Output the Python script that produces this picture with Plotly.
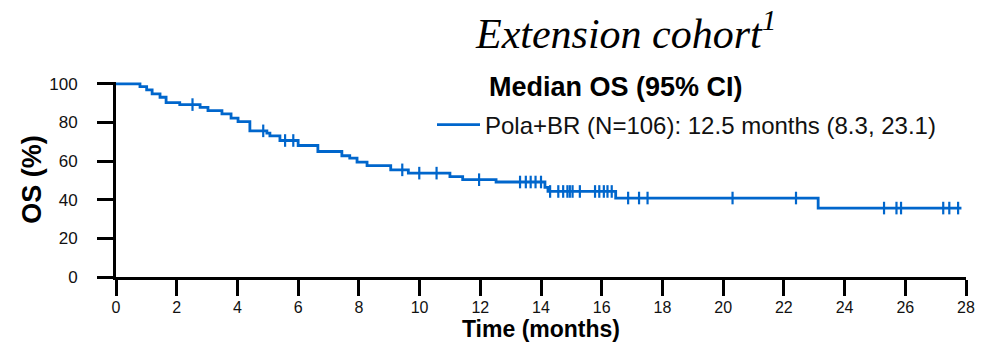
import plotly.graph_objects as go

# Kaplan-Meier overall survival, Pola+BR extension cohort
event_times = [0, 0.79, 1.01, 1.19, 1.45, 1.65, 2.10, 2.77, 3.03, 3.49, 3.79, 4.02,
               4.41, 4.97, 5.07, 5.40, 6.00, 6.65, 7.44, 7.70, 7.94, 8.27, 9.05,
               9.63, 11.00, 11.42, 12.52, 14.13, 14.23, 16.46, 23.13]
survival_pct = [100, 98.6, 96.9, 94.8, 93.1, 90.3, 89.3, 87.9, 86.2, 84.5, 82.3, 80.5,
                75.7, 74.5, 73.1, 70.7, 68.1, 65.0, 62.8, 61.6, 59.5, 57.7, 55.5,
                53.8, 52.0, 50.4, 49.2, 46.4, 44.3, 40.9, 35.7]
last_followup = 27.85
censor_times = [2.52, 4.85, 5.57, 5.84, 9.43, 9.99, 10.56, 11.96, 13.31, 13.50, 13.66,
                13.82, 14.00, 14.30, 14.57, 14.73, 14.87, 14.95, 15.04, 15.28, 15.78,
                15.92, 16.07, 16.19, 16.33, 16.87, 17.23, 17.51, 20.31, 22.40, 25.30,
                25.71, 25.86, 27.25, 27.45, 27.74]
x_ticks = list(range(0, 29, 2))
y_ticks = [0, 20, 40, 60, 80, 100]

series_name = "Pola+BR (N=106): 12.5 months (8.3, 23.1)"
legend_heading = "Median OS (95% CI)"
chart_title = "Extension cohort<sup>1</sup>"

BLUE = "#0066CC"


def surv_at(t):
    s = survival_pct[0]
    for et, sv in zip(event_times, survival_pct):
        if et <= t:
            s = sv
    return s


curve_x = event_times + [last_followup]
curve_y = survival_pct + [survival_pct[-1]]
censor_y = [surv_at(t) for t in censor_times]

fig = go.Figure()
fig.add_trace(go.Scatter(
    x=curve_x, y=curve_y, mode="lines", line_shape="hv",
    line=dict(color=BLUE, width=2.8), name=series_name, showlegend=True,
))
fig.add_trace(go.Scatter(
    x=censor_times, y=censor_y, mode="markers",
    marker=dict(symbol="line-ns", size=9, line=dict(color=BLUE, width=2.2)),
    showlegend=False, hoverinfo="skip",
))

W, H = 982, 344
L, R, T, B = 116, 16, 82, 67
pw, ph = W - L - R, H - T - B


def px_x(px):
    return (px - L) / pw


def px_y(py):
    return (H - B - py) / ph


SANS = "Liberation Sans, Arial"
axis_font = dict(family=SANS, size=16, color="#111")

fig.update_layout(
    width=W, height=H,
    margin=dict(l=L, r=R, t=T, b=B, autoexpand=False),
    paper_bgcolor="white", plot_bgcolor="white",
    xaxis=dict(
        range=[0, 28], tickvals=x_ticks, showgrid=False, zeroline=False,
        showline=True, linecolor="black", linewidth=3,
        ticks="outside", ticklen=16, tickwidth=3, tickcolor="black",
        tickfont=axis_font, ticklabelstandoff=-2, automargin=False,
        title=dict(text="<b>Time (months)</b>", font=dict(family=SANS, size=23, color="#000"), standoff=2),
    ),
    yaxis=dict(
        range=[0, 101], tickvals=y_ticks, showgrid=False, zeroline=False,
        showline=True, linecolor="black", linewidth=3,
        ticks="outside", ticklen=16, tickwidth=3, tickcolor="black",
        tickfont=dict(family=SANS, size=17, color="#111"), ticklabelstandoff=16, automargin=False,
        title=dict(text="<b>OS (%)</b>", font=dict(family=SANS, size=27, color="#000"), standoff=0),
    ),
    legend=dict(
        x=px_x(432), y=px_y(125), xanchor="left", yanchor="middle", itemwidth=43,
        bgcolor="rgba(0,0,0,0)", font=dict(family=SANS, size=24, color="#111"),
    ),
    annotations=[
        dict(text=chart_title, x=px_x(625), y=px_y(30), xref="paper", yref="paper",
             showarrow=False, xanchor="center", yanchor="middle",
             font=dict(family="Liberation Serif, Times New Roman", size=42, color="#000", style="italic")),
        dict(text="<b>" + legend_heading + "</b>", x=px_x(616), y=px_y(87), xref="paper", yref="paper",
             showarrow=False, xanchor="center", yanchor="middle",
             font=dict(family=SANS, size=27, color="#000")),
    ],
)

fig.write_html("out.html")
